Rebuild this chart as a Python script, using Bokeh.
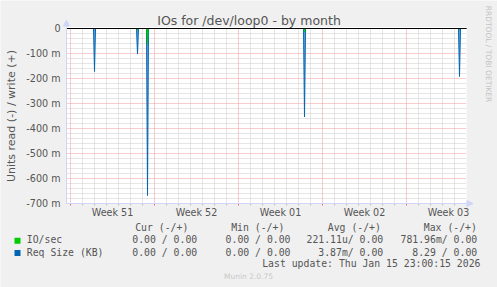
import math
import numpy as np
from bokeh.plotting import figure
from bokeh.models import (Range1d, FixedTicker, CustomJSTickFormatter, Label,
                          Arrow, NormalHead, BoxAnnotation)
from bokeh.embed import file_html
from bokeh.resources import INLINE

# ---------------- data ----------------
title_text = "IOs for /dev/loop0 - by month"
y_axis_title = "Units read (-) / write (+)"

x_start = "2025-12-13T16:00"
x_end = "2026-01-16T00:00"

week_starts = ["2025-12-14", "2025-12-21", "2025-12-28", "2026-01-04", "2026-01-11"]
week_mid = ["2025-12-17T12:00", "2025-12-24T12:00", "2025-12-31T12:00",
            "2026-01-07T12:00", "2026-01-14T12:00"]
week_labels = ["Week 51", "Week 52", "Week 01", "Week 02", "Week 03"]

y_ticks = [-0.7, -0.6, -0.5, -0.4, -0.3, -0.2, -0.1, 0.0]
y_tick_labels = ["-700 m", "-600 m", "-500 m", "-400 m", "-300 m", "-200 m", "-100 m", "0"]

# Req Size (KB), read side (plotted negative), 2-hour samples
req_time = ["2025-12-13T16:00",
            "2025-12-15T22:00", "2025-12-16T00:00", "2025-12-16T02:00",
            "2025-12-19T12:00", "2025-12-19T14:00", "2025-12-19T16:00",
            "2025-12-20T08:00", "2025-12-20T10:00", "2025-12-20T12:00",
            "2026-01-02T10:00", "2026-01-02T12:00", "2026-01-02T14:00",
            "2026-01-15T08:00", "2026-01-15T10:00", "2026-01-15T12:00",
            "2026-01-16T00:00"]
req_read = [0, 0, 0.172, 0, 0, 0.102, 0, 0, 0.668, 0, 0, 0.354, 0, 0, 0.192, 0, 0]

# IO/sec, read side (plotted negative)
io_time = ["2025-12-13T16:00",
           "2025-12-19T12:00", "2025-12-19T14:00", "2025-12-19T16:00",
           "2025-12-20T08:00", "2025-12-20T10:00", "2025-12-20T12:00",
           "2026-01-02T10:00", "2026-01-02T12:00", "2026-01-02T14:00",
           "2026-01-15T08:00", "2026-01-15T10:00", "2026-01-15T12:00",
           "2026-01-16T00:00"]
io_read = [0, 0, 0.006, 0, 0, 0.063, 0, 0, 0.015, 0, 0, 0.004, 0, 0]

series_names = ["IO/sec", "Req Size (KB)"]
series_colors = ["#00CC00", "#0066B3"]
legend_header = ["Cur (-/+)", "Min (-/+)", "Avg (-/+)", "Max (-/+)"]
cur_values = ["0.00 / 0.00", "0.00 / 0.00"]
min_values = ["0.00 / 0.00", "0.00 / 0.00"]
avg_values = ["221.11u/ 0.00", "3.87m/ 0.00"]
max_values = ["781.96m/ 0.00", "8.29 / 0.00"]
last_update = "Last update: Thu Jan 15 23:00:15 2026"
watermark = "RRDTOOL / TOBI OETIKER"
footer = "Munin 2.0.75"


def ms(a):
    return np.array(a, dtype="datetime64[ms]").astype("int64").astype(float)


# ---------------- layout ----------------
W, H = 497, 287
PL, PR = 66.0, 466.0        # canvas x of the time range ends
Y0PIX, PPU = 28.0, 250.0    # canvas y of value 0, pixels per unit
TXT = "#555555"
AXC = "#CFD6F8"
SANS = "DejaVu Sans"
MONO = "DejaVu Sans Mono"

xs, xe = float(ms(x_start)), float(ms(x_end))
xpp = (xe - xs) / (PR - PL)
ypp = 1.0 / PPU
y0 = min(y_ticks)
ytop = 1.5 * ypp            # white area starts 1.5 px above zero

# the frame covers the whole canvas; the data area sits inside it
p = figure(width=W, height=H,
           x_range=Range1d(xs - PL * xpp, xs + (W - PL) * xpp),
           y_range=Range1d(-(H - Y0PIX) * ypp, Y0PIX * ypp),
           output_backend="svg", toolbar_location=None,
           min_border=0, min_border_left=0, min_border_right=0,
           min_border_top=0, min_border_bottom=0,
           background_fill_color="#F0F0F0", border_fill_color="#F0F0F0",
           outline_line_color=None)
p.xgrid.visible = False
p.ygrid.visible = False

lookup_js = """
for (let i = 0; i < pos.length; i++) {
  if (Math.abs(pos[i] - tick) <= 1e-6 * Math.max(1, Math.abs(tick))) return labels[i];
}
return "";
"""

xax = p.xaxis[0]
xax.ticker = FixedTicker(ticks=list(ms(week_mid)))
xax.formatter = CustomJSTickFormatter(args=dict(pos=list(ms(week_mid)), labels=week_labels), code=lookup_js)
xax.fixed_location = y0
xax.bounds = (xs, xe)
yax = p.yaxis[0]
yax.ticker = FixedTicker(ticks=y_ticks)
yax.formatter = CustomJSTickFormatter(args=dict(pos=y_ticks, labels=y_tick_labels), code=lookup_js)
yax.fixed_location = xs
yax.bounds = (y0, ytop)
for ax in (xax, yax):
    ax.axis_line_color = AXC
    ax.major_tick_line_color = None
    ax.minor_tick_line_color = None
    ax.major_tick_out = 0
    ax.major_tick_in = 0
    ax.major_label_text_font = SANS
    ax.major_label_text_font_size = "9.6px"
    ax.major_label_text_color = TXT
xax.major_label_standoff = 3
yax.major_label_standoff = 6

# white plot canvas
p.quad(left=[xs], right=[xe], bottom=[y0], top=[ytop], fill_color="white", line_color=None)

# grid lines
wk = ms(week_starts)
day_ms = 86400000.0
wkset = set(wk.tolist())
days = np.array([d for d in np.arange(wk[0] - day_ms, xe, day_ms) if d not in wkset and d > xs])
ymin = [round(v, 2) for v in np.arange(-0.68, 0.0, 0.02)]
ymin = np.array([v for v in ymin if abs(round(v * 10) / 10 - v) > 1e-9])
yt = np.array(y_ticks)

MINC, MAJC = "#CDCDCD", "#F09A9A"
p.segment(x0=days, y0=y0, x1=days, y1=0, line_color=MINC, line_dash="1 1", line_width=1)
p.segment(x0=xs, y0=ymin, x1=xe, y1=ymin, line_color=MINC, line_dash="1 1", line_width=1)
p.segment(x0=wk, y0=y0, x1=wk, y1=0, line_color=MAJC, line_dash="1 1", line_width=1)
p.segment(x0=xs, y0=yt, x1=xe, y1=yt, line_color=MAJC, line_dash="1 1", line_width=1)
# small tick marks under the time axis
p.segment(x0=days, y0=y0 - 2 * ypp, x1=days, y1=y0, line_color="#BBBBBB", line_width=1)
p.segment(x0=wk, y0=y0 - 2 * ypp, x1=wk, y1=y0, line_color="#E07070", line_width=1)

# series (read side is negated, munin style)
rt = ms(req_time)
ry = -np.array(req_read, dtype=float)
it = ms(io_time)
iy = -np.array(io_read, dtype=float)

p.varea(x=rt, y1=np.zeros_like(ry), y2=ry, fill_color="#6FA2D6")
p.varea(x=it, y1=np.zeros_like(iy), y2=iy, fill_color=series_colors[0])
p.line(x=rt, y=ry, line_color=series_colors[1], line_width=1)
p.line(x=it, y=iy, line_color=series_colors[0], line_width=0.8, line_alpha=0.85)

# zero line
p.segment(x0=xs, y0=0, x1=xe, y1=0, line_color="black", line_width=1)

# axis arrows
p.add_layout(Arrow(end=NormalHead(size=6, fill_color=AXC, line_color=AXC, line_width=1),
                   x_start=xs, y_start=ytop, x_end=xs, y_end=8.5 * ypp,
                   line_color=AXC, line_width=1))
p.add_layout(Arrow(end=NormalHead(size=6, fill_color=AXC, line_color=AXC, line_width=1),
                   x_start=xe, y_start=y0, x_end=xe + 6.5 * xpp, y_end=y0,
                   line_color=AXC, line_width=1))


def lab(text, cx, cy, size, font=SANS, color=TXT, align="left", angle=0.0):
    p.add_layout(Label(x=cx, y=H - cy, x_units="screen", y_units="screen", text=text,
                       text_font=font, text_font_size=f"{size}px", text_color=color,
                       text_align=align, text_baseline="middle", angle=angle))


lab(title_text, 248.5, 19.5, 12.5, align="center")
lab(y_axis_title, 11, 115.5, 11, align="center", angle=math.pi / 2)
lab(watermark, 488, 53.5, 7.5, color="#C4C4C4", align="center", angle=-math.pi / 2)

MS = 9.8
header_x = [134.7, 230.7, 327.3, 423.3]
for t, x in zip(legend_header, header_x):
    lab(t, x, 227.0, MS, font=MONO)
row_y = [239.2, 251.5]
col_right = [196.7, 290.0, 382.7, 476.7]
for i in range(2):
    cy = row_y[i]
    p.add_layout(BoxAnnotation(left=14, right=20, top=H - (cy - 2.0), bottom=H - (cy + 4.0),
                               left_units="screen", right_units="screen",
                               top_units="screen", bottom_units="screen",
                               fill_color=series_colors[i], fill_alpha=1, line_color=None))
    lab(series_names[i], 26.3, cy, MS, font=MONO)
    for vals, xr in zip((cur_values, min_values, avg_values, max_values), col_right):
        lab(vals[i], xr, cy, MS, font=MONO, align="right")
lab(last_update, 261.7, 262.8, MS, font=MONO)
lab(footer, 248, 276.3, 7.5, color="#C8C8C8", align="center")

open("out.html", "w").write(file_html(p, INLINE))
